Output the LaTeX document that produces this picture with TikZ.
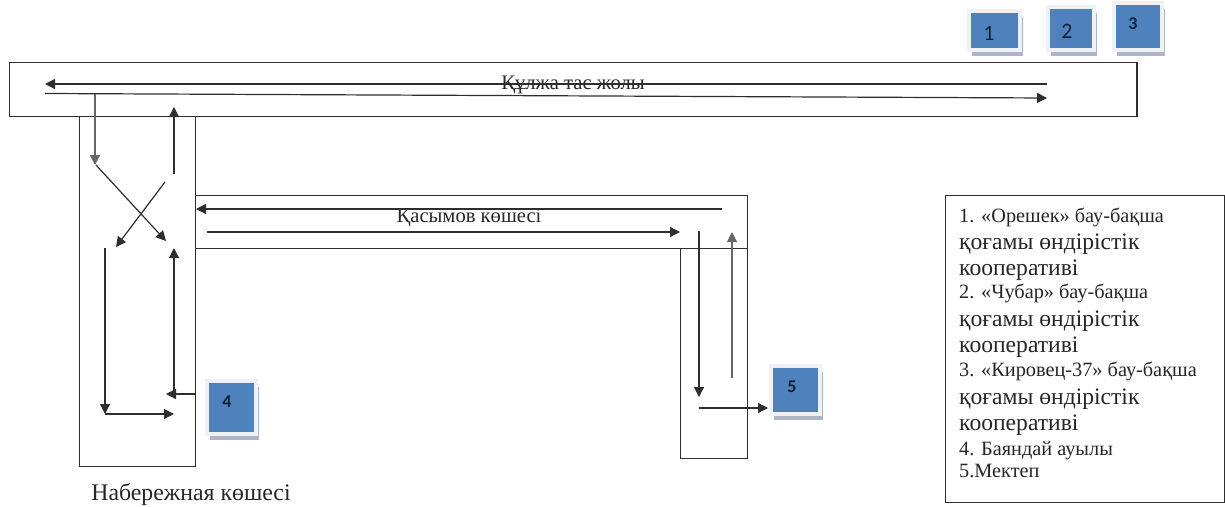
\documentclass[tikz,border=0pt]{standalone}
\usepackage{fontspec}
\setmainfont{Liberation Serif}
\newfontfamily\signfont{Carlito}
\usetikzlibrary{arrows.meta,shadows}
\definecolor{signblue}{HTML}{4F81BD}
\definecolor{signhalo}{HTML}{EEF1F6}
\definecolor{signshade}{HTML}{AEB6C6}
\definecolor{signtext}{HTML}{0F2238}
\definecolor{inkline}{HTML}{2E2E2E}
\tikzset{
  road/.style={draw=inkline,line width=1.2pt,inner sep=0pt,outer sep=0pt,anchor=north west},
  route/.style={draw=inkline,line width=1.2pt,-{Triangle[length=10pt,width=10pt]}},
  faded/.style={draw=black!60},
  sign/.style={draw=signhalo,fill=signblue,line width=4pt,inner sep=0pt,outer sep=0pt,
    drop shadow={shadow xshift=3pt,shadow yshift=-6pt,fill=signshade,opacity=1}},
  signnum/.style={text=signtext,inner sep=0pt,font=\signfont\fontsize{22}{24}\selectfont},
  signbold/.style={text=signtext,inner sep=0pt,font=\signfont\bfseries\fontsize{18}{20}\selectfont},
  roadname/.style={inner sep=0pt,text=black!85,font=\fontsize{20.6}{24}\selectfont},
  keysmall/.style={inner sep=0pt,anchor=base west,text=black!85,font=\fontsize{20.3}{22}\selectfont},
  keybig/.style={inner sep=0pt,anchor=base west,text=black!85,font=\fontsize{23.6}{26}\selectfont},
}
\begin{document}
\begin{tikzpicture}[x=1pt,y=-1pt]
\useasboundingbox (0,0) rectangle (1225,506);
% roads
\node [road,minimum width=116pt,minimum height=350pt] (naberezh) at (79.5,116.5) {};
\node [road,minimum width=1127.5pt,minimum height=54pt] (kulzha) at (9.5,62.5) {};
\node [road,minimum width=552pt,minimum height=53pt] (kasym) at (195.5,195.5) {};
\node [road,minimum width=67pt,minimum height=210pt] (school) at (680.5,248.5) {};
\node [road,minimum width=279pt,minimum height=307pt] (legend) at (945.5,195.5) {};
% road names
\node [roadname] (kulzhaname) at (573,84.5) {Құлжа тас жолы};
\node [roadname] (kasymname) at (469,218) {Қасымов көшесі};
\node [roadname,font=\fontsize{23.8}{26}\selectfont] (naberezhname) at (191,495) {Набережная көшесі};
% signs
\node [sign,minimum width=51pt,minimum height=39pt] (sign1) at (994.5,30.5) {};
\node [sign,minimum width=46pt,minimum height=43pt] (sign2) at (1071,28.5) {};
\node [sign,minimum width=48pt,minimum height=47pt] (sign3) at (1138,26.5) {};
\node [sign,minimum width=49pt,minimum height=53pt] (sign4) at (231.5,407.5) {};
\node [sign,minimum width=49pt,minimum height=48pt] (sign5) at (795.5,390) {};
\node [signnum] (num1) at (989,33.5) {1};
\node [signnum] (num2) at (1067,31) {2};
\node [signbold] (num3) at (1133,24) {3};
\node [signbold] (num4) at (227,402) {4};
\node [signbold] (num5) at (792,387) {5};
% legend text
\foreach \i/\yy/\kind/\txt in {
  1/222/keysmall/1. «Орешек» бау-бақша,
  2/249/keybig/қоғамы өндірістік,
  3/275/keybig/кооперативі,
  4/298/keysmall/2. «Чубар» бау-бақша,
  5/326/keybig/қоғамы өндірістік,
  6/352/keybig/кооперативі,
  7/376/keysmall/3. «Кировец-37» бау-бақша,
  8/404/keybig/қоғамы өндірістік,
  9/430/keybig/кооперативі,
  10/455/keysmall/4. Баяндай ауылы,
  11/477/keysmall/5.Мектеп}
  \node [\kind] (key\i) at (959,\yy) {\txt};
% route points
\coordinate (t1) at (1047,84);    \coordinate (t2) at (45,84);
\coordinate (t3) at (45,93.5);    \coordinate (t4) at (1047,98);
\coordinate (d1) at (95,94);      \coordinate (d2) at (95,165);
\coordinate (u1) at (174,174);    \coordinate (u2) at (174,107);
\coordinate (c1) at (96,165);     \coordinate (c2) at (166,241);
\coordinate (c3) at (165,182);    \coordinate (c4) at (116,247);
\coordinate (l1) at (105,248);    \coordinate (l2) at (105,414);
\coordinate (l3) at (174,414);
\coordinate (r1) at (174,393);    \coordinate (r2) at (174,248);
\coordinate (r3) at (195,394);    \coordinate (r4) at (166,394);
\coordinate (k1) at (722,209);    \coordinate (k2) at (196,209);
\coordinate (k3) at (207,232);    \coordinate (k4) at (680,232);
\coordinate (s1) at (699,231);    \coordinate (s2) at (699,397);
\coordinate (s3) at (732,378);    \coordinate (s4) at (732,232);
\coordinate (s5) at (699,408);    \coordinate (s6) at (768,408);
% routes
\draw [route] (t1) -- (t2);
\draw [route] (t3) -- (t4);
\draw [route,faded] (d1) -- (d2);
\draw [route] (u1) -- (u2);
\draw [route] (c1) -- (c2);
\draw [route] (c3) -- (c4);
\draw [route] (l1) -- (l2);
\draw [route] (l2) -- (l3);
\draw [route] (r1) -- (r2);
\draw [route] (r3) -- (r4);
\draw [route] (k1) -- (k2);
\draw [route] (k3) -- (k4);
\draw [route] (s1) -- (s2);
\draw [route,faded] (s3) -- (s4);
\draw [route] (s5) -- (s6);
\end{tikzpicture}
\end{document}
